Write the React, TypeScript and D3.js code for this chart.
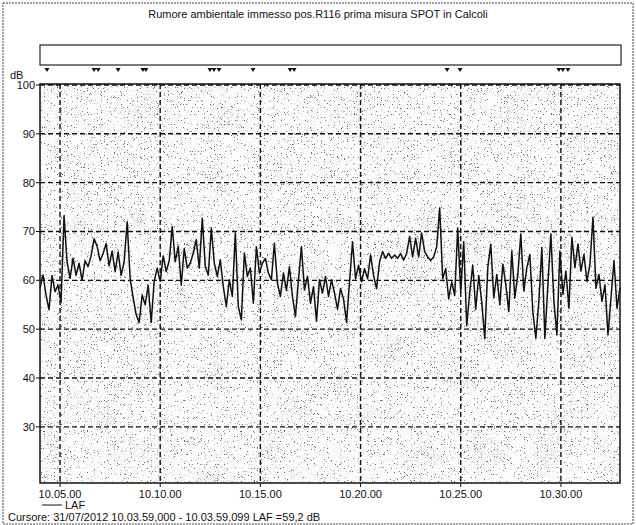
import React from "react";
import * as d3 from "d3";

// LAF values (dB), one every 9 s starting 10.04.00
const LAF_SEG1 = [58.4, 61.1, 57, 54, 61, 57.7, 59, 55.4, 73.2, 63.8, 60.4, 64.5, 61, 63.5, 60, 64, 62.8, 65, 68.5, 67, 64, 65.5, 67.5, 63, 66, 61.8, 65.8, 61, 63.8, 72, 60.4, 56.4, 53, 51.4, 57, 55, 59, 51.4, 59.8, 62.5, 59.8, 65, 61.8, 64, 71, 63.8, 67, 59, 66.5, 62.5];
const LAF_SEG2 = [63.5, 65.6, 68.3, 62.5, 72.7, 62.8, 61.1, 70.7, 63.5, 60.8, 64.2, 58.7, 54.6, 60.1, 56.7, 69.7, 54.6, 51.9, 65.6, 60.8, 62.5, 55.3, 66.9, 61.5, 63.5, 64.5, 61.5, 60.1, 67.6, 59.4, 56.7, 61.5, 58, 62.8, 56.7, 52.6, 60.1, 66.9, 58, 60.8, 55.3, 58.7, 51.6, 60.1, 57.4, 60.8, 56.7, 60.1, 57.4];
const LAF_SEG3 = [54.1, 58.3, 56.2, 51.4, 59.7, 67.9, 60.3, 63.1, 59.7, 62.4, 60.3, 65.2, 61, 58.3, 63.8, 65.9, 64.5, 65.5, 64.5, 65.2, 64.5, 65.5, 64.1, 65.5, 69, 64.8, 68.6, 64.8, 69.7, 65.9, 64.8, 64.1, 64.8, 66.9, 74.8, 60.3, 62.4, 56.2, 59.7, 56.9, 70.7, 57.6, 67.9, 50.7, 57.6, 63.1, 54.1, 61, 55.5];
const LAF_SEG4 = [48.1, 62.6, 67.4, 56.4, 61.2, 55, 63.3, 59.1, 53.6, 66, 56.4, 61.2, 69.5, 57.8, 62.6, 65.3, 53.6, 48.1, 55.7, 66.7, 48.1, 59.1, 69.5, 55.7, 48.8, 66, 57.1, 61.9, 54.3, 68.8, 62.6, 67.4, 61.9, 65.3, 59.8, 63.3, 72.9, 58.4, 61.2, 55.7, 59.1, 48.8, 56.4, 64, 54.3, 58.4];
const LAF = [...LAF_SEG1, ...LAF_SEG2, ...LAF_SEG3, ...LAF_SEG4];

const START_S = 10 * 3600 + 4 * 60; // 10.04.00
const STEP_S = 9;
const END_S = START_S + (LAF.length - 1) * STEP_S;

// event markers (seconds after start)
const MARKERS = [21, 162, 174, 234, 308, 317, 509, 521, 536, 638, 749, 761, 1219, 1258, 1554, 1566, 1581];

const X_TICKS = [10 * 3600 + 5 * 60, 10 * 3600 + 10 * 60, 10 * 3600 + 15 * 60, 10 * 3600 + 20 * 60, 10 * 3600 + 25 * 60, 10 * 3600 + 30 * 60];
const X_TICK_LABELS = ["10.05.00", "10.10.00", "10.15.00", "10.20.00", "10.25.00", "10.30.00"];
const Y_TICKS = [30, 40, 50, 60, 70, 80, 90, 100];

const TITLE = "Rumore ambientale immesso pos.R116 prima misura SPOT in Calcoli";
const CURSOR_TEXT = "Cursore: 31/07/2012 10.03.59,000 - 10.03.59,099  LAF =59,2 dB";

export default function App() {
  const W = 636, H = 525;
  const L = 40, R = 620, T = 84, B = 483;
  const x = d3.scaleLinear().domain([START_S, END_S]).range([L, R]);
  const y = d3.scaleLinear().domain([18.5, 100.2]).range([B, T]);
  const line = d3.line<number>().x((_, i) => x(START_S + i * STEP_S)).y((d) => y(d));
  const font = "'Liberation Sans', Arial, sans-serif";
  const fs = 11;

  return (
    <svg width={W} height={H} style={{ position: "absolute", left: 0, top: 0, background: "#fff" }}>
      <defs>
        <filter id="stip" x="0" y="0" width="100%" height="100%">
          <feTurbulence type="fractalNoise" baseFrequency="1.3" numOctaves="1" seed="7" result="n" />
          <feColorMatrix in="n" type="matrix" values="0 0 0 0 0.15  0 0 0 0 0.15  0 0 0 0 0.15  14 0 0 0 -8.9" result="dots" />
          <feColorMatrix in="n" type="matrix" values="0 0 0 0 0.55  0 0 0 0 0.55  0 0 0 0 0.55  0 14 0 0 -8.0" result="gdots" />
          <feTurbulence type="fractalNoise" baseFrequency="0.03" numOctaves="2" seed="3" result="m" />
          <feColorMatrix in="m" type="matrix" values="0 0 0 0 1  0 0 0 0 1  0 0 0 0 1  3 0 0 0 -1.5" result="blot" />
          <feComposite in="gdots" in2="blot" operator="in" result="g2" />
          <feMerge>
            <feMergeNode in="SourceGraphic" />
            <feMergeNode in="g2" />
            <feMergeNode in="dots" />
          </feMerge>
        </filter>
      </defs>
      <rect x={3} y={3} width={630} height={521} fill="none" stroke="#444" strokeWidth={1} strokeDasharray="2,1" />
      <text x={318} y={18} textAnchor="middle" fontFamily={font} fontSize={fs} fill="#111">{TITLE}</text>
      <rect x={40} y={45} width={581} height={20} fill="#fff" stroke="#222" strokeWidth={1.2} />
      {MARKERS.map((m, i) => {
        const cx = x(START_S + m);
        return <path key={i} d={`M${cx - 2.5},${68}L${cx + 2.5},${68}L${cx},${72}Z`} fill="#111" />;
      })}
      <text x={10} y={79} fontFamily={font} fontSize={fs} fill="#111">dB</text>
      <rect x={L} y={T} width={R - L} height={B - T} fill="#fbfbfb" filter="url(#stip)" />
      {Y_TICKS.map((t) => (
        <g key={t}>
          <line x1={L} x2={R} y1={y(t)} y2={y(t)} stroke="#111" strokeWidth={1.4} strokeDasharray="5,3" />
          <line x1={L - 4} x2={L} y1={y(t)} y2={y(t)} stroke="#111" strokeWidth={1} />
          <text x={L - 5} y={y(t) + 4} textAnchor="end" fontFamily={font} fontSize={fs} fill="#111">{t}</text>
        </g>
      ))}
      {X_TICKS.map((t, i) => (
        <g key={t}>
          <line x1={x(t)} x2={x(t)} y1={T} y2={B} stroke="#111" strokeWidth={1.4} strokeDasharray="5,3" />
          <line x1={x(t)} x2={x(t)} y1={B} y2={B + 4} stroke="#111" strokeWidth={1} />
          <text x={x(t)} y={B + 15} textAnchor="middle" fontFamily={font} fontSize={fs} fill="#111">{X_TICK_LABELS[i]}</text>
        </g>
      ))}
      <path d={line(LAF) || ""} fill="none" stroke="#111" strokeWidth={1.5} strokeLinejoin="round" />
      <rect x={L} y={T} width={R - L} height={B - T} fill="none" stroke="#111" strokeWidth={1.5} />
      <line x1={42} x2={62} y1={505} y2={505} stroke="#111" strokeWidth={1} />
      <text x={65} y={509} fontFamily={font} fontSize={fs} fill="#111">LAF</text>
      <text x={8} y={521} fontFamily={font} fontSize={fs} fill="#111">{CURSOR_TEXT}</text>
    </svg>
  );
}
